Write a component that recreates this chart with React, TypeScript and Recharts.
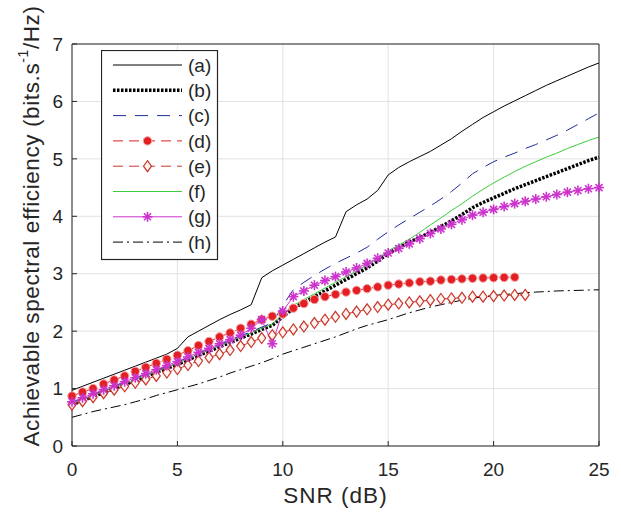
import { LineChart, Line, XAxis, YAxis, CartesianGrid, Legend } from 'recharts';

// SNR grid (dB)
const snr = [
  0, 0.5, 1, 1.5, 2, 2.5, 3, 3.5, 4, 4.5, 5, 5.5, 6, 6.5, 7, 7.5, 8, 8.5, 9, 9.5,
  10, 10.5, 11, 11.5, 12, 12.5, 13, 13.5, 14, 14.5, 15, 15.5, 16, 16.5, 17, 17.5,
  18, 18.5, 19, 19.5, 20, 20.5, 21, 21.5, 22, 22.5, 23, 23.5, 24, 24.5, 25,
];

const seriesA = [
  0.97, 1.04, 1.11, 1.18, 1.25, 1.32, 1.39, 1.46, 1.53, 1.6, 1.7, 1.9, 2.0, 2.1, 2.2, 2.29, 2.37, 2.46, 2.93, 3.05,
  3.15, 3.25, 3.35, 3.45, 3.55, 3.64, 4.08, 4.2, 4.3, 4.45, 4.72, 4.85, 4.95, 5.04, 5.13, 5.24,
  5.35, 5.48, 5.6, 5.72, 5.82, 5.92, 6.01, 6.1, 6.19, 6.28, 6.36, 6.44, 6.52, 6.6, 6.67,
];
const seriesB = [
  0.72, 0.79, 0.86, 0.93, 1.0, 1.07, 1.14, 1.21, 1.28, 1.35, 1.42, 1.5, 1.58, 1.65, 1.73, 1.8, 1.88, 1.95, 2.03, 2.1,
  2.25, 2.4, 2.5, 2.6, 2.7, 2.8, 2.9, 3.0, 3.1, 3.22, 3.35, 3.45, 3.55, 3.63, 3.72, 3.82,
  3.92, 4.03, 4.15, 4.24, 4.32, 4.4, 4.48, 4.55, 4.62, 4.69, 4.76, 4.83, 4.9, 4.97, 5.03,
];
const seriesC = [
  0.76, 0.83, 0.9, 0.97, 1.04, 1.11, 1.18, 1.25, 1.32, 1.39, 1.46, 1.54, 1.62, 1.69, 1.77, 1.84, 1.92, 1.99, 2.07, 2.14,
  2.45, 2.72, 2.85, 2.97, 3.08, 3.18, 3.27, 3.36, 3.46, 3.6, 3.73, 3.85, 3.96, 4.07, 4.18, 4.3,
  4.43, 4.58, 4.74, 4.85, 4.95, 5.03, 5.1, 5.18, 5.25, 5.33, 5.41, 5.5, 5.6, 5.7, 5.8,
];
const seriesD = [
  0.87, 0.94, 1.0, 1.08, 1.15, 1.22, 1.3, 1.37, 1.44, 1.51, 1.58, 1.66, 1.75, 1.82, 1.9, 1.97, 2.05, 2.12, 2.2, 2.26,
  2.3, 2.4, 2.48, 2.55, 2.6, 2.64, 2.68, 2.71, 2.74, 2.77, 2.8, 2.82, 2.84, 2.86, 2.87, 2.89,
  2.9, 2.91, 2.92, 2.925, 2.93, 2.935, 2.94, null, null, null, null, null, null, null, null,
];
const seriesE = [
  0.72, 0.78, 0.85, 0.92, 0.98, 1.04, 1.1, 1.16, 1.22, 1.28, 1.34, 1.41, 1.48, 1.54, 1.6, 1.67, 1.74, 1.81, 1.88, 1.93,
  1.98, 2.03, 2.08, 2.14, 2.2, 2.25, 2.3, 2.34, 2.38, 2.42, 2.46, 2.48, 2.5, 2.52, 2.54, 2.56,
  2.57, 2.58, 2.6, 2.6, 2.61, 2.62, 2.63, 2.63, null, null, null, null, null, null, null,
];
const seriesF = [
  0.74, 0.81, 0.88, 0.95, 1.02, 1.09, 1.16, 1.23, 1.3, 1.37, 1.44, 1.52, 1.6, 1.67, 1.75, 1.82, 1.9, 1.97, 2.05, 2.12,
  2.3, 2.45, 2.55, 2.65, 2.75, 2.85, 2.95, 3.05, 3.15, 3.27, 3.4, 3.5, 3.6, 3.72, 3.85, 3.97,
  4.1, 4.22, 4.35, 4.47, 4.58, 4.68, 4.78, 4.87, 4.95, 5.03, 5.1, 5.18, 5.25, 5.32, 5.38,
];
const seriesG = [
  0.77, 0.84, 0.91, 0.98, 1.05, 1.12, 1.19, 1.26, 1.33, 1.4, 1.47, 1.55, 1.63, 1.7, 1.78, 1.85, 1.93, 2.05, 2.2, 1.78,
  2.35, 2.6, 2.7, 2.8, 2.88, 2.95, 3.03, 3.1, 3.18, 3.27, 3.36, 3.44, 3.52, 3.61, 3.7, 3.78,
  3.86, 3.94, 4.02, 4.07, 4.12, 4.17, 4.22, 4.26, 4.3, 4.34, 4.38, 4.42, 4.45, 4.48, 4.5,
];
const seriesH = [
  0.5, 0.55, 0.6, 0.64, 0.68, 0.72, 0.77, 0.82, 0.88, 0.93, 0.98, 1.03, 1.08, 1.14, 1.2, 1.27, 1.33, 1.39, 1.45, 1.52,
  1.6, 1.66, 1.72, 1.78, 1.84, 1.9, 1.97, 2.04, 2.1, 2.15, 2.2, 2.26, 2.32, 2.37, 2.42, 2.46,
  2.5, 2.54, 2.57, 2.6, 2.62, 2.64, 2.65, 2.67, 2.68, 2.69, 2.7, 2.705, 2.71, 2.715, 2.72,
];

const xTicks = [0, 5, 10, 15, 20, 25];
const yTicks = [0, 1, 2, 3, 4, 5, 6, 7];
const legendLabels = ['(a)', '(b)', '(c)', '(d)', '(e)', '(f)', '(g)', '(h)'];

const data = snr.map((x, i) => ({
  snr: x,
  a: seriesA[i],
  b: seriesB[i],
  c: seriesC[i],
  d: seriesD[i],
  e: seriesE[i],
  f: seriesF[i],
  g: seriesG[i],
  h: seriesH[i],
}));

type Marker = 'dot' | 'diamond' | 'star' | null;

const styles: { key: string; stroke: string; width: number; dash?: string; marker: Marker }[] = [
  { key: 'a', stroke: '#000000', width: 1, marker: null },
  { key: 'b', stroke: '#000000', width: 3.5, dash: '2.5 1.5', marker: null },
  { key: 'c', stroke: '#1f2a9b', width: 1, dash: '13 9', marker: null },
  { key: 'd', stroke: '#e41f24', width: 1, dash: '10 6', marker: 'dot' },
  { key: 'e', stroke: '#c8372d', width: 1, dash: '10 6', marker: 'diamond' },
  { key: 'f', stroke: '#3ccc3c', width: 1, marker: null },
  { key: 'g', stroke: '#cc33cc', width: 1, marker: 'star' },
  { key: 'h', stroke: '#000000', width: 1, dash: '10 4 2 4', marker: null },
];

const FONT = '"Liberation Sans", Arial, Helvetica, sans-serif';
const AXIS = '#262626';

function drawMarker(kind: Marker, cx: number, cy: number, color: string, key?: string | number) {
  if (kind === 'dot') {
    return <circle key={key} cx={cx} cy={cy} r={4.2} fill={color} stroke="#f4a0a0" strokeWidth={1} />;
  }
  if (kind === 'diamond') {
    return (
      <path
        key={key}
        d={`M${cx},${cy - 5.5} L${cx + 4},${cy} L${cx},${cy + 5.5} L${cx - 4},${cy} Z`}
        fill="#fff3ef"
        stroke={color}
        strokeWidth={1.2}
      />
    );
  }
  if (kind === 'star') {
    const s = 5;
    const d2 = s * 0.7;
    return (
      <g key={key} stroke={color} strokeWidth={1.6}>
        <line x1={cx - s} y1={cy} x2={cx + s} y2={cy} />
        <line x1={cx} y1={cy - s} x2={cx} y2={cy + s} />
        <line x1={cx - d2} y1={cy - d2} x2={cx + d2} y2={cy + d2} />
        <line x1={cx - d2} y1={cy + d2} x2={cx + d2} y2={cy - d2} />
      </g>
    );
  }
  return null;
}

const makeDot = (kind: Marker, color: string) => (props: any) => {
  const { cx, cy, value, index } = props;
  if (cx == null || cy == null || value == null) return <g key={`m-${index}`} />;
  return drawMarker(kind, cx, cy, color, `m-${index}`);
};

function LegendBox() {
  const rowH = 25.3;
  return (
    <svg width={118} height={211} style={{ display: 'block' }}>
      <rect x={0.5} y={0.5} width={116} height={209} fill="#ffffff" stroke={AXIS} strokeWidth={1.2} />
      {styles.map((s, i) => {
        const y = 15 + i * rowH;
        return (
          <g key={s.key}>
            <line
              x1={12}
              x2={81}
              y1={y}
              y2={y}
              stroke={s.stroke}
              strokeWidth={s.width}
              strokeDasharray={s.dash}
            />
            {drawMarker(s.marker, 46.5, y, s.stroke)}
            <text x={87} y={y} dy="0.35em" fontSize={19} fontFamily={FONT} fill={AXIS}>
              {legendLabels[i]}
            </text>
          </g>
        );
      })}
    </svg>
  );
}

function YLabel(props: any) {
  const vb = props.viewBox || { x: 12, y: 44, width: 60, height: 402 };
  const cx = vb.x + 19;
  const cy = 226;
  return (
    <text
      x={cx}
      y={cy}
      transform={`rotate(-90 ${cx} ${cy})`}
      textAnchor="middle"
      dominantBaseline="central"
      fontSize={22.5}
      letterSpacing={0.6}
      fontFamily={FONT}
      fill={AXIS}
    >
      Achievable spectral efficiency (bits.s
      <tspan dy={-8} fontSize={14}>-1</tspan>
      <tspan dy={8}>/Hz)</tspan>
    </text>
  );
}

function XLabel(props: any) {
  const vb = props.viewBox || { x: 72, y: 446, width: 527, height: 40 };
  return (
    <text
      x={vb.x + vb.width / 2}
      y={vb.y + 57}
      textAnchor="middle"
      fontSize={22.5}
      letterSpacing={1}
      fontFamily={FONT}
      fill={AXIS}
    >
      SNR (dB)
    </text>
  );
}

export default function App() {
  return (
    <div style={{ position: 'absolute', left: 0, top: 0, width: 621, height: 514, background: '#ffffff' }}>
      <LineChart width={621} height={514} data={data} margin={{ top: 43, right: 21, bottom: 28, left: 12 }}>
        <CartesianGrid xAxisId="b" yAxisId="l" stroke="#e2e2e2" strokeWidth={1} />
        <XAxis
          xAxisId="b"
          dataKey="snr"
          type="number"
          domain={[0, 25]}
          ticks={xTicks}
          height={40}
          tickSize={-5}
          tickMargin={22}
          axisLine={{ stroke: AXIS }}
          tickLine={{ stroke: AXIS }}
          tick={{ fontSize: 19, fill: AXIS, fontFamily: FONT }}
          label={{ content: XLabel }}
        />
        <XAxis
          xAxisId="t"
          dataKey="snr"
          type="number"
          orientation="top"
          domain={[0, 25]}
          ticks={xTicks}
          height={1}
          tickSize={-5}
          tick={false}
          axisLine={{ stroke: AXIS }}
          tickLine={{ stroke: AXIS }}
        />
        <YAxis
          yAxisId="l"
          type="number"
          domain={[0, 7]}
          ticks={yTicks}
          width={60}
          tickSize={-5}
          tickMargin={14}
          axisLine={{ stroke: AXIS }}
          tickLine={{ stroke: AXIS }}
          tick={{ fontSize: 19, fill: AXIS, fontFamily: FONT }}
          label={{ content: YLabel }}
        />
        <YAxis
          yAxisId="r"
          orientation="right"
          type="number"
          domain={[0, 7]}
          ticks={yTicks}
          width={1}
          tickSize={-5}
          tick={false}
          axisLine={{ stroke: AXIS }}
          tickLine={{ stroke: AXIS }}
        />
        {styles.map((s) => (
          <Line
            key={s.key}
            xAxisId="b"
            yAxisId="l"
            type="linear"
            dataKey={s.key}
            stroke={s.stroke}
            strokeWidth={s.width}
            strokeDasharray={s.dash}
            dot={s.marker ? makeDot(s.marker, s.stroke) : false}
            activeDot={false}
            connectNulls={false}
            isAnimationActive={false}
          />
        ))}
        <Legend
          layout="vertical"
          align="center"
          verticalAlign="middle"
          wrapperStyle={{ left: 101, top: 50, width: 118, height: 211 }}
          content={() => <LegendBox />}
        />
      </LineChart>
    </div>
  );
}
